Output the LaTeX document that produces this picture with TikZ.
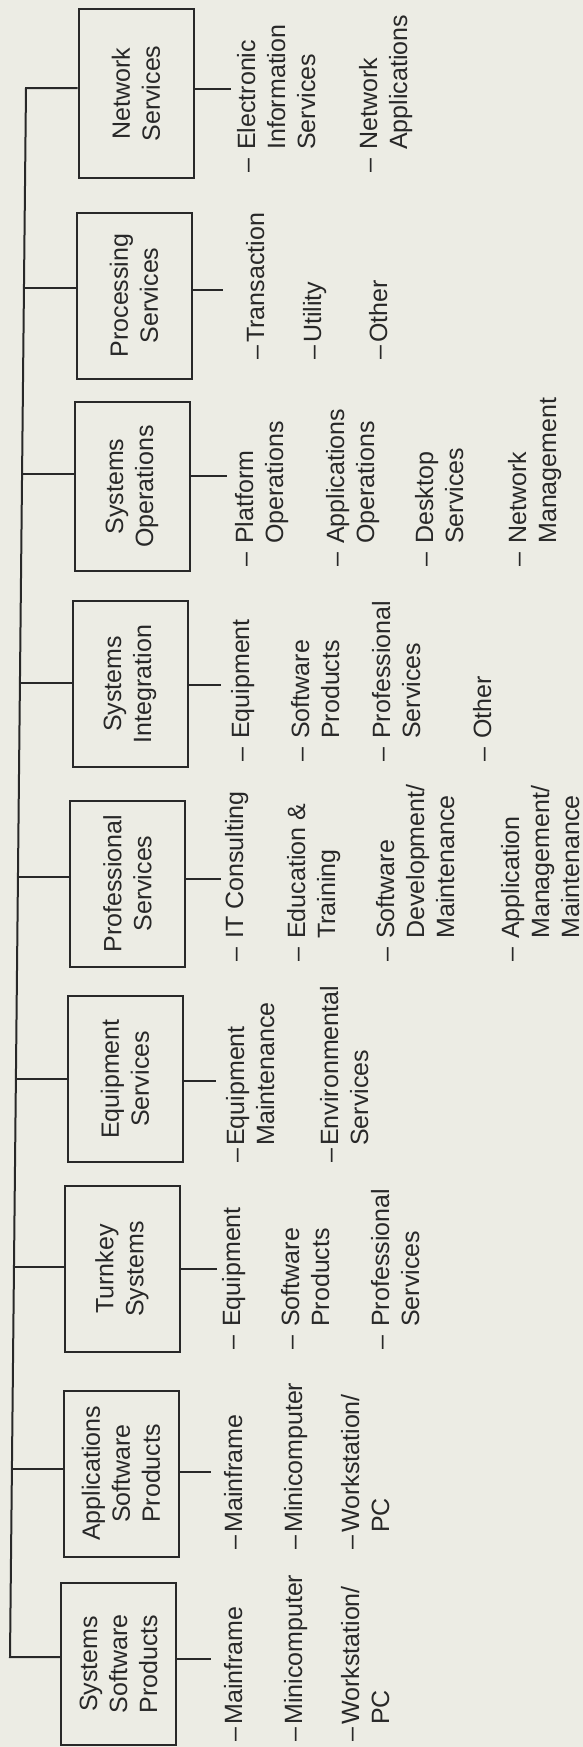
\documentclass[tikz,border=0pt]{standalone}
\usepackage{fontspec}
\setmainfont{Liberation Sans}
\definecolor{paper}{RGB}{236,236,228}
\definecolor{ink}{RGB}{40,40,40}
% sub-item text: en dash followed by a hanging block of lines
\newcommand\leafA[1]{–\kern1.5pt\begin{tabular}[t]{@{}l@{}}#1\end{tabular}}
\newcommand\leafB[1]{–\kern4.5pt\begin{tabular}[t]{@{}l@{}}#1\end{tabular}}
\begin{document}
\begin{tikzpicture}[x=0.5pt,y=-0.5pt,
  every node/.style={text=ink,font=\fontsize{12.5}{15}\selectfont},
  unit/.style={draw=ink,line width=1pt,rotate=90,align=center,
    minimum width=83pt,minimum height=57.5pt,inner sep=2pt},
  leaf/.style={rotate=90,anchor=base west,inner sep=0pt},
  link/.style={draw=ink,line width=1pt}]
\path[use as bounding box,fill=paper] (0,0) rectangle (583,1747);

% service category boxes (text reads bottom to top)
\node[unit,minimum width=81pt] (b1) at (118.5,1664) {Systems\\Software\\Products};
\node[unit] (b2) at (121,1473.5) {Applications\\Software\\Products};
\node[unit] (b3) at (122,1269) {Turnkey\\Systems};
\node[unit] (b4) at (125,1079) {Equipment\\Services};
\node[unit] (b5) at (127.5,883.5) {Professional\\Services};
\node[unit] (b6) at (130,684) {Systems\\Integration};
\node[unit,minimum width=84.5pt] (b7) at (132,486.5) {Systems\\Operations};
\node[unit] (b8) at (134,295.5) {Processing\\Services};
\node[unit,minimum width=84.5pt] (b9) at (136,93.5) {Network\\Services};

% junctions on the trunk line
\coordinate (j1) at (10,1657);
\coordinate (j2) at (11.9,1469);
\coordinate (j3) at (14,1267);
\coordinate (j4) at (15.9,1079);
\coordinate (j5) at (17.9,877);
\coordinate (j6) at (19.9,683);
\coordinate (j7) at (22.1,474);
\coordinate (j8) at (24,288);
\coordinate (j9) at (26,88);

\draw[link] (j9 -| b9.north) -- (j9) -- (j1) -- (j1 -| b1.north);
\foreach \i in {2,...,8}{\draw[link] (j\i) -- (j\i -| b\i.north);}

% short stubs on the right side of each box
\coordinate (s1) at (211,1659);
\coordinate (s2) at (211,1472);
\coordinate (s3) at (217,1269);
\coordinate (s4) at (216,1081);
\coordinate (s5) at (221,879);
\coordinate (s6) at (220.5,685);
\coordinate (s7) at (227,476);
\coordinate (s8) at (223,290);
\coordinate (s9) at (230.5,89);
\foreach \i in {1,...,9}{\draw[link] (s\i -| b\i.south) -- (s\i);}

% Systems Software Products
\node[leaf] (c11) at (242,1742) {\leafA{Mainframe}};
\node[leaf] (c12) at (302,1742) {\leafA{Minicomputer}};
\node[leaf] (c13) at (359,1742) {\leafA{Workstation/\\PC}};
% Applications Software Products
\node[leaf] (c21) at (242,1550) {\leafA{Mainframe}};
\node[leaf] (c22) at (302,1550) {\leafA{Minicomputer}};
\node[leaf] (c23) at (359,1550) {\leafA{Workstation/\\PC}};
% Turnkey Systems
\node[leaf] (c31) at (240,1350) {\leafB{Equipment}};
\node[leaf] (c32) at (299,1350) {\leafB{Software\\Products}};
\node[leaf] (c33) at (389,1350) {\leafB{Professional\\Services}};
% Equipment Services
\node[leaf] (c41) at (244,1163) {\leafA{Equipment\\Maintenance}};
\node[leaf] (c42) at (338,1163) {\leafA{Environmental\\Services}};
% Professional Services
\node[leaf] (c51) at (243,962) {\leafB{IT Consulting}};
\node[leaf] (c52) at (305,962) {\leafB{Education \&\\Training}};
\node[leaf] (c53) at (394,962) {\leafB{Software\\Development/\\Maintenance}};
\node[leaf] (c54) at (519,962) {\leafB{Application\\Management/\\Maintenance}};
% Systems Integration
\node[leaf] (c61) at (249,762) {\leafB{Equipment}};
\node[leaf] (c62) at (309,762) {\leafB{Software\\Products}};
\node[leaf] (c63) at (390,762) {\leafB{Professional\\Services}};
\node[leaf] (c64) at (491,762) {\leafB{Other}};
% Systems Operations
\node[leaf] (c71) at (253,567) {\leafB{Platform\\Operations}};
\node[leaf] (c72) at (344,567) {\leafB{Applications\\Operations}};
\node[leaf] (c73) at (433,567) {\leafB{Desktop\\Services}};
\node[leaf] (c74) at (526,567) {\leafB{Network\\Management}};
% Processing Services
\node[leaf] (c81) at (264,360) {\leafA{Transaction}};
\node[leaf] (c82) at (321,360) {\leafA{Utility}};
\node[leaf] (c83) at (387,360) {\leafA{Other}};
% Network Services
\node[leaf] (c91) at (255,173) {\leafB{Electronic\\Information\\Services}};
\node[leaf] (c92) at (377,173) {\leafB{Network\\Applications}};
\end{tikzpicture}
\end{document}
